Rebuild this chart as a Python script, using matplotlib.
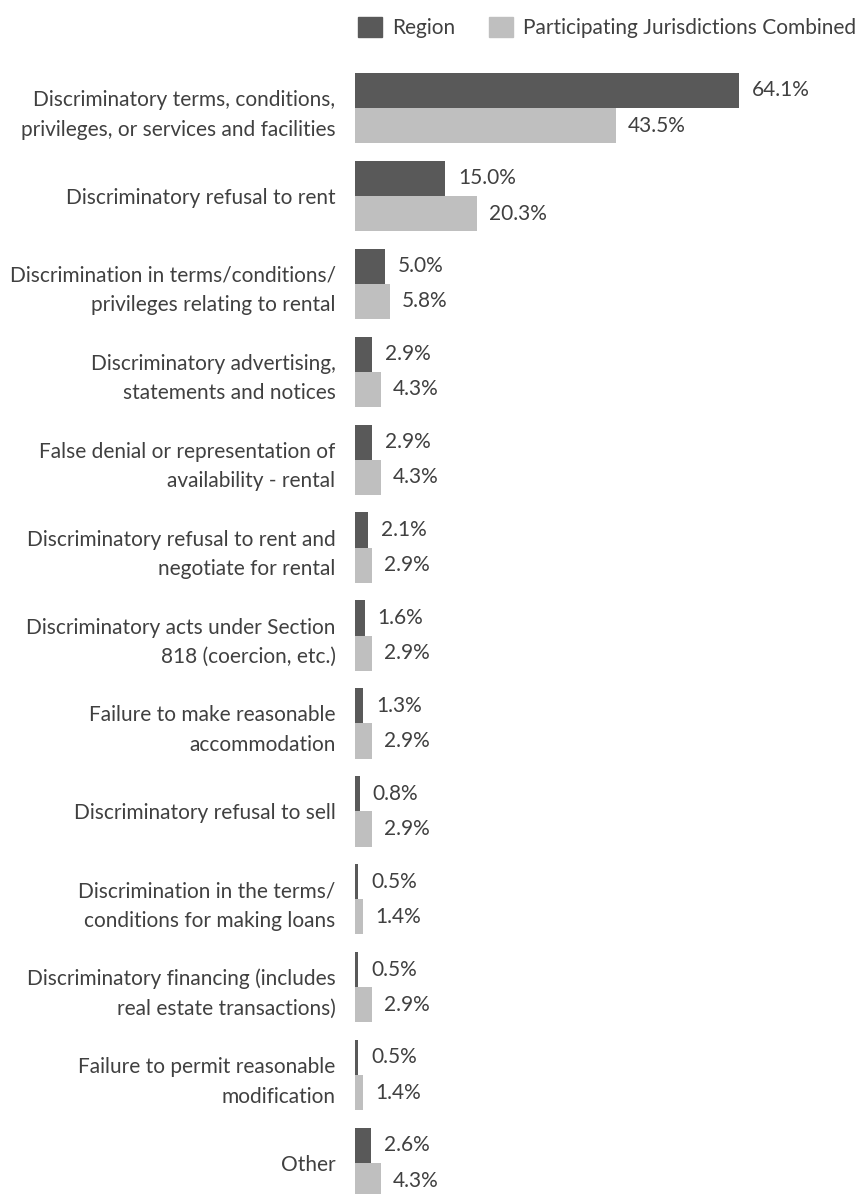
import matplotlib
matplotlib.use("Agg")
import matplotlib.pyplot as plt
from matplotlib.patches import Patch
import numpy as np

categories = [
    "Discriminatory terms, conditions,\nprivileges, or services and facilities",
    "Discriminatory refusal to rent",
    "Discrimination in terms/conditions/\nprivileges relating to rental",
    "Discriminatory advertising,\nstatements and notices",
    "False denial or representation of\navailability - rental",
    "Discriminatory refusal to rent and\nnegotiate for rental",
    "Discriminatory acts under Section\n818 (coercion, etc.)",
    "Failure to make reasonable\naccommodation",
    "Discriminatory refusal to sell",
    "Discrimination in the terms/\nconditions for making loans",
    "Discriminatory financing (includes\nreal estate transactions)",
    "Failure to permit reasonable\nmodification",
    "Other",
]
region = [64.1, 15.0, 5.0, 2.9, 2.9, 2.1, 1.6, 1.3, 0.8, 0.5, 0.5, 0.5, 2.6]
combined = [43.5, 20.3, 5.8, 4.3, 4.3, 2.9, 2.9, 2.9, 2.9, 1.4, 2.9, 1.4, 4.3]
series_names = ["Region", "Participating Jurisdictions Combined"]

DARK = "#595959"
LIGHT = "#bfbfbf"
TEXT = "#404040"
FONT = "Lato"
FS = 15

W, H = 861, 1194
fig = plt.figure(figsize=(W / 100, H / 100), dpi=100)
x0 = 355
ax = fig.add_axes([x0 / W, 0, 1 - x0 / W, 1])

y = np.arange(len(categories))
bh = 0.4
ax.barh(y - bh / 2, region, height=bh, color=DARK)
ax.barh(y + bh / 2, combined, height=bh, color=LIGHT)

px = 5.99  # pixels per percent
ax.set_xlim(0, (W - x0) / px)
ax.set_ylim(12 + 31 / 87.9, -108 / 87.9)

for yi, r, c in zip(y, region, combined):
    ax.text(r + 13 / px, yi - bh / 2, f"{r:.1f}%", va="center", ha="left",
            fontsize=FS, color=TEXT, family=FONT)
    ax.text(c + 12 / px, yi + bh / 2, f"{c:.1f}%", va="center", ha="left",
            fontsize=FS, color=TEXT, family=FONT)

ax.set_yticks(y)
ax.set_yticklabels(categories, fontsize=FS, color=TEXT, family=FONT,
                   linespacing=1.6)
ax.tick_params(axis="y", length=0, pad=14)
ax.set_xticks([])
for s in ax.spines.values():
    s.set_visible(False)

handles = [Patch(color=DARK), Patch(color=LIGHT)]
fig.legend(handles, series_names, loc="upper left",
           bbox_to_anchor=(339 / W, 1 + 2 / H), ncol=2, frameon=False,
           handlelength=1.15, handleheight=1.1, handletextpad=0.5,
           columnspacing=1.6, prop={"family": FONT, "size": FS},
           labelcolor=TEXT)

fig.savefig("out.png", dpi=100)
